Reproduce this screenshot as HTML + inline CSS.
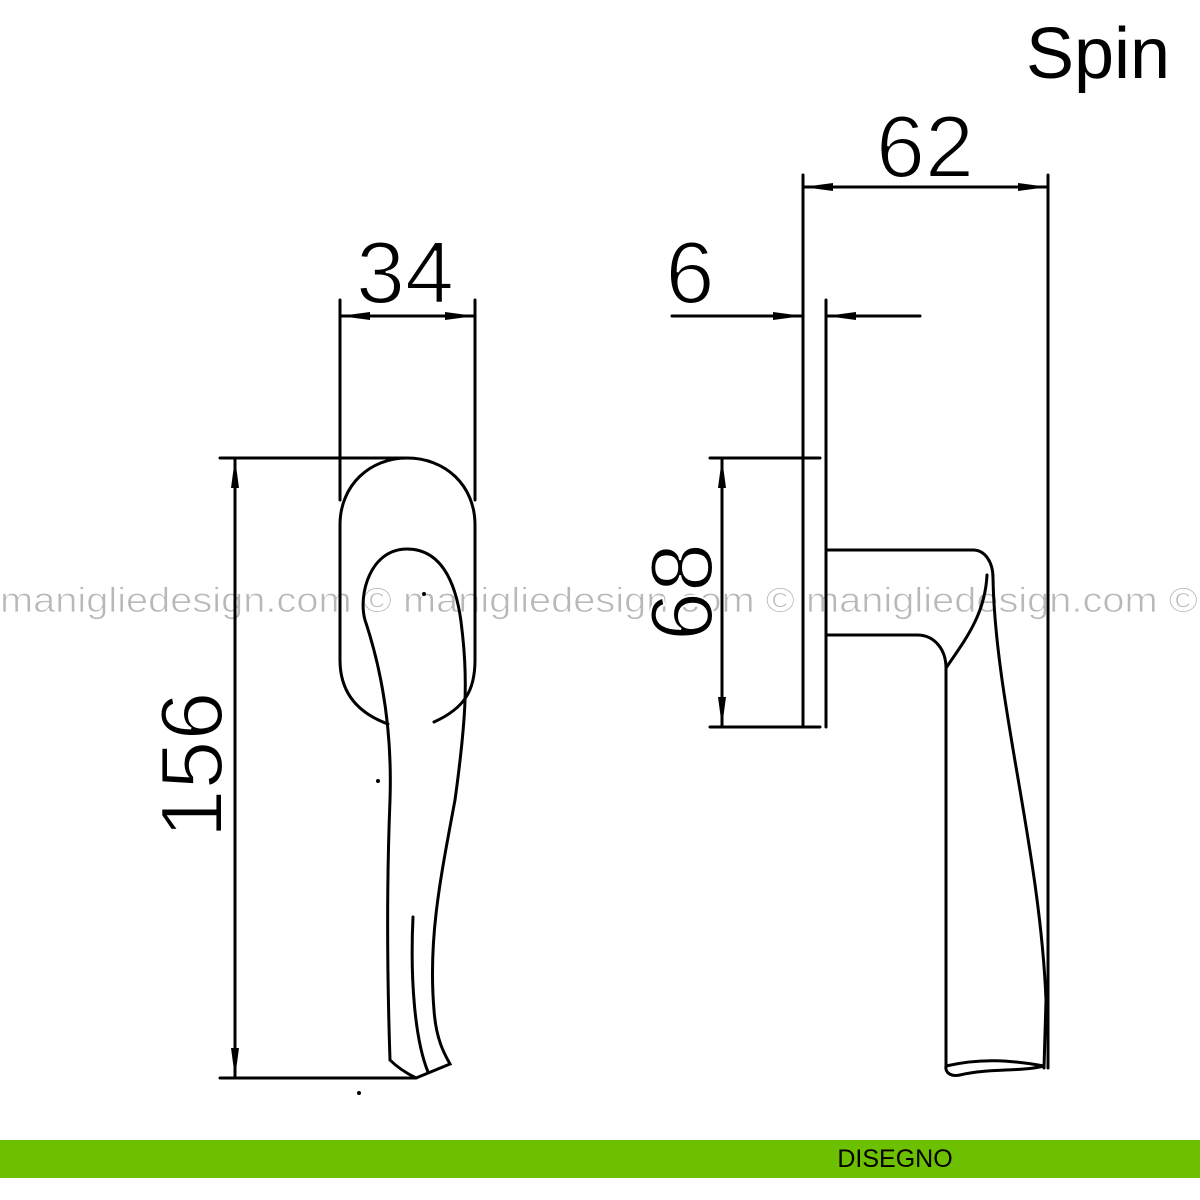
<!DOCTYPE html>
<html><head><style>body{margin:0;background:#fff}svg{display:block}</style></head>
<body>
<svg width="1200" height="1200" viewBox="0 0 1200 1200" xmlns="http://www.w3.org/2000/svg">
<defs>
<marker id="a" viewBox="0 0 30 10" refX="30" refY="5" markerWidth="30" markerHeight="10" markerUnits="userSpaceOnUse" orient="auto"><path d="M0,1 L30,5 L0,9 Z" fill="#000"/></marker>
</defs>
<text x="0" y="612" font-family="Liberation Sans, sans-serif" font-size="35" fill="#b8b8b8" stroke="#fff" stroke-width="0.8" textLength="1198" lengthAdjust="spacingAndGlyphs">manigliedesign.com © manigliedesign.com © manigliedesign.com ©</text>
<g fill="none" stroke="#000" stroke-width="3" stroke-linecap="round">
<line x1="340" y1="300" x2="340" y2="500"/>
<line x1="475" y1="300" x2="475" y2="500"/>
<line x1="420" y1="316" x2="340" y2="316" marker-end="url(#a)"/>
<line x1="400" y1="316" x2="475" y2="316" marker-end="url(#a)"/>
<line x1="220" y1="458" x2="405" y2="458"/>
<line x1="220" y1="1078" x2="416" y2="1078"/>
<line x1="235" y1="760" x2="235" y2="458" marker-end="url(#a)"/>
<line x1="235" y1="760" x2="235" y2="1078" marker-end="url(#a)"/>
<path d="M388,724 C355,712 340,690 340,660 L340,525 C340,485 370,458 407,458 C445,458 475,485 475,525 L475,660 C475,690 465,708 434,722"/>
<path d="M390,1060 C388,1000 386,900 390,800 C392,740 385,680 365,620 C358,595 370,549 407,549 C445,549 458,590 462,630 C468,680 466,720 455,800 C440,880 428,940 434,1010 C436,1040 445,1055 450,1064 L416,1078 C400,1070 392,1062 390,1060"/>
<path d="M413,917 C410,980 415,1040 428,1072"/>
<line x1="803" y1="175" x2="803" y2="727"/>
<line x1="826" y1="300" x2="826" y2="727"/>
<line x1="1048" y1="175" x2="1048" y2="1068"/>
<line x1="920" y1="187" x2="803" y2="187" marker-end="url(#a)"/>
<line x1="920" y1="187" x2="1048" y2="187" marker-end="url(#a)"/>
<line x1="672" y1="316" x2="803" y2="316" marker-end="url(#a)"/>
<line x1="920" y1="316" x2="826" y2="316" marker-end="url(#a)"/>
<line x1="710" y1="458" x2="820" y2="458"/>
<line x1="710" y1="727" x2="820" y2="727"/>
<line x1="722" y1="590" x2="722" y2="458" marker-end="url(#a)"/>
<line x1="722" y1="590" x2="722" y2="727" marker-end="url(#a)"/>
<path d="M826,550 L973,550 C985,550 993,562 993,578 C995,700 1040,850 1046,1000 L1044,1068"/>
<path d="M826,635 L917,635 C935,635 946,650 946,668 L946,1068"/>
<path d="M946,668 C965,640 985,615 987,575"/>
<path d="M946,1066 C980,1058 1010,1060 1044,1066 C1020,1072 990,1068 960,1075 C950,1077 945,1072 946,1066"/>
</g>
<g font-family="Liberation Sans, sans-serif" fill="#000">
<text x="1098" y="78" font-size="72" text-anchor="middle">Spin</text>
<text x="405" y="303" font-size="88" text-anchor="middle" stroke="#fff" stroke-width="2">34</text>
<text x="925" y="177" font-size="88" text-anchor="middle" stroke="#fff" stroke-width="2">62</text>
<text x="690" y="303" font-size="88" text-anchor="middle" stroke="#fff" stroke-width="2">6</text>
<text transform="translate(222,765) rotate(-90)" font-size="88" text-anchor="middle" stroke="#fff" stroke-width="2">156</text>
<text transform="translate(712,592) rotate(-90)" font-size="88" text-anchor="middle" stroke="#fff" stroke-width="2">68</text>
</g>
<circle cx="424" cy="594" r="2"/><circle cx="378" cy="781" r="2"/><circle cx="359" cy="1093" r="2"/>
<rect x="0" y="1140" width="1200" height="38" fill="#6cc000"/>
<text x="895" y="1167" font-family="Liberation Sans, sans-serif" font-size="25" text-anchor="middle" fill="#000">DISEGNO</text>
</svg>
</body></html>
